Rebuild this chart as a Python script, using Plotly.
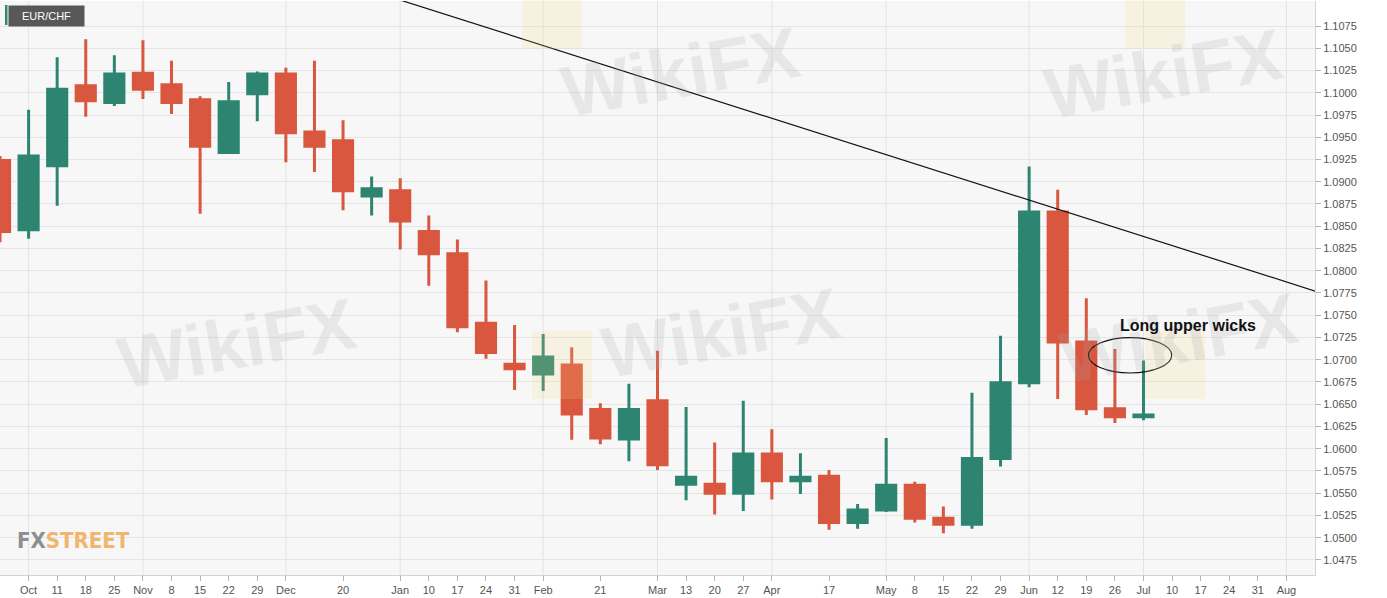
import plotly.graph_objects as go

# ---------------- data (weekly EUR/CHF candles) ----------------
dates = ["2019-09-27", "2019-10-04", "2019-10-11", "2019-10-18", "2019-10-25",
         "2019-11-01", "2019-11-08", "2019-11-15", "2019-11-22", "2019-11-29",
         "2019-12-06", "2019-12-13", "2019-12-20", "2019-12-27",
         "2020-01-03", "2020-01-10", "2020-01-17", "2020-01-24", "2020-01-31",
         "2020-02-07", "2020-02-14", "2020-02-21", "2020-02-28",
         "2020-03-06", "2020-03-13", "2020-03-20", "2020-03-27",
         "2020-04-03", "2020-04-10", "2020-04-17", "2020-04-24",
         "2020-05-01", "2020-05-08", "2020-05-15", "2020-05-22", "2020-05-29",
         "2020-06-05", "2020-06-12", "2020-06-19", "2020-06-26", "2020-07-03"]

open_ = [1.0924, 1.0846, 1.0918, 1.1008, 1.0989, 1.1022, 1.1009, 1.0992, 1.0933, 1.0999,
         1.1021, 1.0956, 1.0946, 1.0884, 1.0890, 1.0844, 1.0819, 1.0741, 1.0695, 1.0684,
         1.0694, 1.0644, 1.0611, 1.0654, 1.0560, 1.0560, 1.0550, 1.0594, 1.0564, 1.0569,
         1.0517, 1.0531, 1.0559, 1.0522, 1.0515, 1.0589, 1.0674, 1.0866, 1.0720, 1.0645,
         1.0636]
high = [1.0929, 1.0981, 1.1040, 1.1060, 1.1042, 1.1059, 1.1036, 1.0996, 1.1012, 1.1024,
        1.1028, 1.1036, 1.0969, 1.0906, 1.0904, 1.0862, 1.0835, 1.0789, 1.0739, 1.0729,
        1.0714, 1.0651, 1.0673, 1.0710, 1.0647, 1.0607, 1.0654, 1.0622, 1.0595, 1.0576,
        1.0538, 1.0612, 1.0563, 1.0535, 1.0663, 1.0727, 1.0917, 1.0891, 1.0769, 1.0712,
        1.0699]
low = [1.0832, 1.0836, 1.0873, 1.0973, 1.0985, 1.0993, 1.0976, 1.0864, 1.0932, 1.0968,
       1.0922, 1.0911, 1.0868, 1.0862, 1.0824, 1.0783, 1.0731, 1.0701, 1.0666, 1.0665,
       1.0610, 1.0605, 1.0586, 1.0576, 1.0542, 1.0526, 1.0530, 1.0543, 1.0549, 1.0509,
       1.0510, 1.0529, 1.0517, 1.0505, 1.0510, 1.0580, 1.0669, 1.0656, 1.0638, 1.0629,
       1.0632]
close = [1.0844, 1.0929, 1.1004, 1.0991, 1.1021, 1.1004, 1.0989, 1.0940, 1.0990, 1.1021,
         1.0955, 1.0940, 1.0890, 1.0892, 1.0856, 1.0819, 1.0737, 1.0708, 1.0690, 1.0703,
         1.0639, 1.0612, 1.0644, 1.0582, 1.0568, 1.0550, 1.0594, 1.0564, 1.0568, 1.0517,
         1.0531, 1.0559, 1.0522, 1.0515, 1.0589, 1.0674, 1.0866, 1.0720, 1.0645, 1.0636,
         1.0638]

# descending trendline (two reference points)
trend_x = ["2019-12-20", "2020-08-21"]
trend_y = [1.11246, 1.07670]

# x-axis ticks
tick_dates = ["2019-10-04", "2019-10-11", "2019-10-18", "2019-10-25", "2019-11-01",
              "2019-11-08", "2019-11-15", "2019-11-22", "2019-11-29", "2019-12-06",
              "2019-12-20", "2020-01-03", "2020-01-10", "2020-01-17", "2020-01-24",
              "2020-01-31", "2020-02-07", "2020-02-21", "2020-03-06", "2020-03-13",
              "2020-03-20", "2020-03-27", "2020-04-03", "2020-04-17", "2020-05-01",
              "2020-05-08", "2020-05-15", "2020-05-22", "2020-05-29", "2020-06-05",
              "2020-06-12", "2020-06-19", "2020-06-26", "2020-07-03", "2020-07-10",
              "2020-07-17", "2020-07-24", "2020-07-31", "2020-08-07"]
tick_text = ["Oct", "11", "18", "25", "Nov", "8", "15", "22", "29", "Dec", "20",
             "Jan", "10", "17", "24", "31", "Feb", "21", "Mar", "13", "20", "27",
             "Apr", "17", "May", "8", "15", "22", "29", "Jun", "12", "19", "26",
             "Jul", "10", "17", "24", "31", "Aug"]
month_lines = ["2019-10-04", "2019-11-01", "2019-12-06", "2020-01-03", "2020-02-07",
               "2020-03-06", "2020-04-03", "2020-05-01", "2020-06-05", "2020-07-03",
               "2020-08-07"]

# y-axis ticks
y_ticks = [1.0475, 1.0500, 1.0525, 1.0550, 1.0575, 1.0600, 1.0625, 1.0650, 1.0675,
           1.0700, 1.0725, 1.0750, 1.0775, 1.0800, 1.0825, 1.0850, 1.0875, 1.0900,
           1.0925, 1.0950, 1.0975, 1.1000, 1.1025, 1.1050, 1.1075]

GREEN = "#2d8571"
RED = "#d9563f"

PW, PH, PT = 1315, 574, 1   # plot area width/height/top (px)

fig = go.Figure()

fig.add_trace(go.Candlestick(
    x=dates, open=open_, high=high, low=low, close=close,
    increasing=dict(line=dict(color=GREEN, width=3), fillcolor=GREEN),
    decreasing=dict(line=dict(color=RED, width=3), fillcolor=RED),
    whiskerwidth=0, showlegend=False, hoverinfo="skip",
))

fig.add_trace(go.Scatter(
    x=trend_x, y=trend_y, mode="lines",
    line=dict(color="#111111", width=1.2), showlegend=False, hoverinfo="skip",
))

shapes = []
for d in month_lines:
    shapes.append(dict(type="line", xref="x", yref="paper", x0=d, x1=d, y0=0, y1=1,
                       line=dict(color="#e3e3e3", width=1), layer="below"))

# ellipse around the long upper wicks
shapes.append(dict(type="circle", xref="x", yref="y",
                   x0="2020-06-19 13:00", x1="2020-07-09 22:00",
                   y0=1.06851, y1=1.07249,
                   line=dict(color="#111111", width=1.2), layer="above"))

# EUR/CHF label green stripe
shapes.append(dict(type="rect", xref="paper", yref="paper",
                   x0=5 / PW, x1=7.5 / PW, y0=1 - 24 / PH, y1=1 - 4 / PH,
                   line=dict(width=0), fillcolor="#2e8a6e", layer="above"))

# watermark logo squares (faint)
for (cx, cy) in [(552, 15), (1155, 15), (562, 365), (1175, 365)]:
    shapes.append(dict(type="rect", xref="paper", yref="paper",
                       x0=(cx - 30) / PW, x1=(cx + 30) / PW,
                       y0=1 - (cy + 34 - PT) / PH, y1=1 - (cy - 34 - PT) / PH,
                       line=dict(width=0), fillcolor="rgba(248,214,130,0.18)",
                       layer="above"))

annotations = []
# watermark texts
for (cx, cy) in [(680, 10), (1290, 12), (110, 343), (720, 333), (1305, 338)]:
    annotations.append(dict(xref="paper", yref="paper", x=cx / PW, y=1 - (cy - PT) / PH,
                            text="<b>WikiFX</b>", showarrow=False, textangle=-10,
                            font=dict(family="Liberation Sans, Arial, sans-serif",
                                      size=72, color="rgba(170,170,170,0.2)")))

annotations.append(dict(xref="x", yref="y", x="2020-07-14", y=1.0738,
                        text="<b>Long upper wicks</b>", showarrow=False,
                        font=dict(family="Liberation Sans, Arial, sans-serif",
                                  size=16, color="#111111")))

annotations.append(dict(xref="paper", yref="paper", x=7.5 / PW, y=1 - 4 / PH,
                        xanchor="left", yanchor="top", text="EUR/CHF",
                        showarrow=False, bgcolor="#58585a", width=67, height=12,
                        borderpad=4, align="center",
                        font=dict(family="Liberation Sans, Arial, sans-serif",
                                  size=11, color="#ffffff")))

annotations.append(dict(xref="paper", yref="paper", x=15 / PW, y=1 - (540 - PT) / PH,
                        xanchor="left", yanchor="middle",
                        text="<b><span style='color:#8e8e8e'>FX</span>"
                             "<span style='color:#f1b56e'>STREET</span></b>",
                        showarrow=False,
                        font=dict(family="Liberation Sans Narrow, DejaVu Sans Condensed, sans-serif",
                                  size=22)))

fig.update_layout(
    width=1387, height=598,
    margin=dict(l=0, r=72, t=1, b=23, autoexpand=False),
    paper_bgcolor="#ffffff", plot_bgcolor="#f7f7f7",
    shapes=shapes, annotations=annotations,
    showlegend=False,
    boxgap=0.33, boxgroupgap=0,
    font=dict(family="Liberation Sans, Arial, sans-serif", size=11, color="#555555"),
    xaxis=dict(type="date", range=["2019-09-27", "2020-08-14"],
               tickmode="array", tickvals=tick_dates, ticktext=tick_text,
               ticks="outside", ticklen=5, tickcolor="#b5b5b5",
               showline=True, linecolor="#d3d3d3", showgrid=False, zeroline=False,
               tickfont=dict(size=11, color="#555555"),
               rangeslider=dict(visible=False), fixedrange=True, automargin=False),
    yaxis=dict(side="right", range=[1.04581, 1.11031],
               tickmode="array", tickvals=y_ticks, tickformat=".4f",
               ticks="outside", ticklen=5, tickcolor="#b5b5b5",
               showline=True, linecolor="#d3d3d3",
               showgrid=True, gridcolor="#e5e5e5", zeroline=False,
               tickfont=dict(size=11, color="#555555"), fixedrange=True,
               automargin=False),
)

fig.write_html("out.html",
               config={"displayModeBar": False},
               post_script="document.body.style.margin='0';"
                           "document.body.style.padding='0';")
